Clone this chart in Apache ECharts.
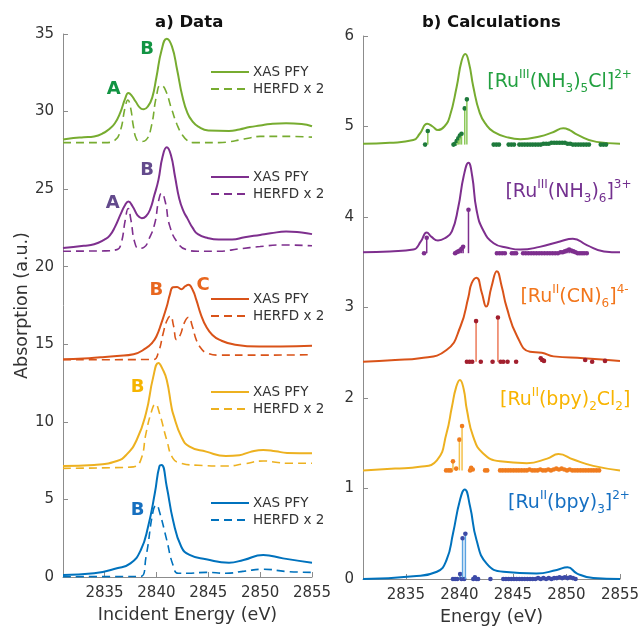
<!DOCTYPE html>
<html><head><meta charset="utf-8">
<script src="https://cdn.jsdelivr.net/npm/echarts@6.0.0/dist/echarts.min.js"></script>
<style>html,body{margin:0;padding:0;background:#fff}#c{width:641px;height:626px}</style>
</head><body><div id="c"></div>
<script>
// ---------- tick labels ----------
const energyTicks = [2835, 2840, 2845, 2850, 2855];
const leftYTicks = [0, 5, 10, 15, 20, 25, 30, 35];
const rightYTicks = [0, 1, 2, 3, 4, 5, 6];

// ---------- a) Data : [energy, absorption] ----------
const pfyGreen = [[2831,28.2],[2832,28.3],[2833,28.35],[2834,28.4],[2835,28.65],[2835.5,28.9],[2836,29.25],[2836.5,29.9],[2837,30.85],[2837.3,31.2],[2837.6,31.05],[2838,30.65],[2838.5,30.2],[2838.8,30.15],[2839.2,30.35],[2839.6,30.9],[2840,32.2],[2840.5,33.95],[2841,34.7],[2841.5,34.2],[2842,32.7],[2842.5,31.0],[2843,29.9],[2843.5,29.35],[2844,29.05],[2845,28.78],[2847,28.75],[2848,28.85],[2849,29.0],[2850,29.1],[2851,29.2],[2852.5,29.25],[2854,29.2],[2855,29.05]];
const herfdGreen = [[2831,28.0],[2835,28.0],[2836,28.15],[2836.5,28.7],[2837,30.3],[2837.25,30.75],[2837.5,30.3],[2837.8,29.0],[2838.1,28.2],[2838.5,28.07],[2839,28.17],[2839.5,29.0],[2840,30.97],[2840.4,31.7],[2840.8,31.5],[2841.5,30.1],[2842,29.15],[2842.5,28.5],[2843,28.13],[2843.5,28.0],[2846,28.0],[2847,28.05],[2848,28.17],[2849,28.3],[2850,28.4],[2853,28.4],[2855,28.35]];
const pfyPurple = [[2831,21.2],[2833,21.35],[2834,21.45],[2835,21.75],[2835.5,22.0],[2836,22.55],[2836.6,23.45],[2837,24.0],[2837.3,24.2],[2837.7,23.9],[2838.2,23.3],[2838.6,23.13],[2839,23.25],[2839.4,23.7],[2839.8,24.6],[2840.2,25.6],[2840.6,27.1],[2841,27.7],[2841.4,27.2],[2841.8,25.8],[2842.2,24.4],[2842.6,23.6],[2843,23.1],[2843.5,22.5],[2844,22.1],[2845,21.84],[2846,21.75],[2847.3,21.75],[2848.5,21.9],[2850,22.05],[2851,22.15],[2852.5,22.27],[2854,22.2],[2855,22.1]];
const herfdPurple = [[2831,21.0],[2835,21.02],[2836.2,21.1],[2836.6,21.5],[2837,23.0],[2837.28,23.75],[2837.55,23.0],[2837.9,21.6],[2838.3,21.18],[2838.8,21.25],[2839.3,21.8],[2839.85,22.8],[2840.2,24.2],[2840.5,24.74],[2840.85,24.2],[2841.3,22.6],[2842.1,21.5],[2842.9,21.1],[2844,21.0],[2846,21.0],[2848,21.15],[2850,21.3],[2852,21.4],[2855,21.35]];
const pfyOrange = [[2831,14.03],[2833,14.08],[2834.6,14.16],[2836.2,14.25],[2837.8,14.36],[2839,14.75],[2839.6,15.1],[2840,15.5],[2840.5,16.4],[2841,17.43],[2841.3,18.2],[2841.6,18.68],[2842,18.7],[2842.4,18.55],[2842.8,18.75],[2843.1,18.83],[2843.5,18.5],[2843.85,17.86],[2844.3,16.9],[2844.8,16.14],[2845.4,15.6],[2846.1,15.28],[2847.4,15.0],[2849.9,14.85],[2852,14.85],[2855,14.9]];
const herfdOrange = [[2831,14.0],[2839.7,14.02],[2840.2,14.5],[2840.65,15.7],[2841.0,16.5],[2841.35,16.83],[2841.65,16.2],[2841.95,15.3],[2842.3,15.6],[2842.7,16.4],[2843.1,16.74],[2843.45,16.2],[2843.85,15.28],[2844.3,14.75],[2844.8,14.46],[2846.1,14.3],[2850,14.3],[2855,14.33]];
const pfyYellow = [[2831,7.15],[2834,7.22],[2836.2,7.48],[2837.1,7.87],[2838.1,8.83],[2839,10.55],[2839.7,12.9],[2840.2,13.8],[2840.6,13.4],[2841,12.7],[2841.45,10.98],[2841.6,10.55],[2842.4,9.05],[2843.2,8.4],[2844.8,8.08],[2846.7,7.8],[2848,7.85],[2849,8.05],[2850.3,8.19],[2851.5,8.1],[2852.6,8.0],[2855,7.97]];
const herfdYellow = [[2831,7.0],[2836,7.05],[2837.8,7.1],[2838.5,7.55],[2839,9.26],[2839.5,10.6],[2839.9,11.15],[2840.3,10.55],[2841,8.83],[2841.6,7.65],[2842.4,7.33],[2844,7.2],[2846.7,7.15],[2848.5,7.3],[2850.3,7.48],[2851.5,7.4],[2852.6,7.33],[2855,7.33]];
const pfyBlue = [[2831,0.13],[2834,0.24],[2836.2,0.56],[2837.5,0.88],[2838.5,1.74],[2839.2,3.24],[2839.85,5.4],[2840.3,7.16],[2840.5,7.22],[2841,5.82],[2841.6,3.68],[2842.4,1.95],[2843.2,1.42],[2844.8,1.14],[2847,0.92],[2848.4,1.1],[2850.3,1.42],[2852.2,1.2],[2855,0.92]];
const herfdBlue = [[2831,0.02],[2838.5,0.04],[2839,1.3],[2839.7,4.3],[2840,4.64],[2840.3,4.2],[2841,2.38],[2841.6,0.77],[2842.1,0.24],[2843,0.24],[2844.8,0.3],[2846.7,0.24],[2848.5,0.38],[2850.3,0.5],[2852.6,0.35],[2855,0.3]];

// peak letters: [text, energy, absorption]
const lettersGreen = [['A',2835.9,31.46],['B',2839.1,33.98]];
const lettersPurple = [['A',2835.8,24.1],['B',2839.1,26.24]];
const lettersOrange = [['B',2840.0,18.5],['C',2844.5,18.8]];
const lettersYellow = [['B',2838.2,12.2]];
const lettersBlue = [['B',2838.2,4.3]];

// ---------- b) Calculations : [energy, intensity] ----------
const calcGreen = [[2831,4.81],[2833.5,4.82],[2835.7,4.85],[2836.3,4.92],[2837.0,5.03],[2837.5,5.0],[2838.0,4.96],[2838.6,5.0],[2839.1,5.11],[2839.75,5.44],[2840.2,5.72],[2840.55,5.8],[2840.9,5.7],[2841.3,5.44],[2841.9,5.15],[2842.5,5.02],[2843.2,4.94],[2844.5,4.88],[2845.7,4.86],[2847.5,4.89],[2848.8,4.94],[2849.7,4.98],[2850.3,4.96],[2851.0,4.91],[2852.8,4.83],[2855,4.81]];
const calcPurple = [[2831,3.61],[2833.5,3.62],[2835.7,3.64],[2836.4,3.73],[2836.95,3.83],[2837.4,3.78],[2838.0,3.74],[2838.7,3.77],[2839.3,3.84],[2839.9,4.11],[2840.4,4.45],[2840.85,4.6],[2841.2,4.45],[2841.6,4.08],[2842.2,3.86],[2843.2,3.71],[2844.5,3.66],[2845.7,3.64],[2847.5,3.67],[2849.4,3.73],[2850.6,3.76],[2851.9,3.69],[2853.5,3.62],[2855,3.61]];
const calcOrange = [[2831,2.40],[2834,2.42],[2836.3,2.44],[2838.8,2.53],[2840.1,2.79],[2840.85,3.12],[2841.15,3.27],[2841.6,3.33],[2842.1,3.16],[2842.5,3.01],[2843.0,3.23],[2843.5,3.40],[2843.96,3.23],[2844.4,3.01],[2845.4,2.68],[2846.6,2.51],[2847.7,2.50],[2848.8,2.46],[2851.6,2.44],[2855,2.41]];
const calcYellow = [[2831,1.20],[2834,1.22],[2836.3,1.24],[2837.9,1.31],[2838.8,1.61],[2839.3,1.90],[2839.7,2.12],[2840.05,2.20],[2840.4,2.1],[2840.7,1.87],[2841.3,1.57],[2842.2,1.39],[2843.8,1.30],[2846.3,1.28],[2848.2,1.33],[2849.25,1.38],[2850.65,1.32],[2852.5,1.25],[2855,1.20]];
const calcBlue = [[2831,0.0],[2835.7,0.03],[2837.9,0.08],[2838.8,0.21],[2839.4,0.50],[2840.05,0.87],[2840.5,0.99],[2841.0,0.80],[2841.6,0.43],[2842.55,0.17],[2844.1,0.08],[2847.2,0.06],[2849.1,0.10],[2850.1,0.13],[2851.0,0.06],[2852.5,0.01],[2855,0.0]];

// stick baselines (offsets) per compound
const stickBase = {green: 4.8, purple: 3.6, orange: 2.4, yellow: 1.2, blue: 0};
// transitions: [energy, intensity]
const sticksGreen = [[2836.8,4.8],[2837.05,4.95],[2839.45,4.8],[2839.6,4.81],[2839.75,4.84],[2839.9,4.87],[2840.05,4.9],[2840.2,4.92],[2840.5,5.2],[2840.7,5.3],[2843.2,4.8],[2843.45,4.8],[2843.7,4.8],[2844.6,4.8],[2844.85,4.8],[2845.1,4.8],[2845.6,4.8],[2845.85,4.8],[2846.1,4.8],[2846.35,4.8],[2846.6,4.8],[2846.85,4.8],[2847.1,4.8],[2847.35,4.8],[2847.6,4.8],[2847.85,4.81],[2848.1,4.81],[2848.35,4.81],[2848.6,4.82],[2848.85,4.82],[2849.1,4.82],[2849.35,4.82],[2849.6,4.82],[2849.85,4.82],[2850.1,4.81],[2850.35,4.81],[2850.6,4.8],[2850.85,4.8],[2851.1,4.8],[2851.35,4.8],[2851.6,4.8],[2851.85,4.8],[2852.1,4.8],[2853.2,4.8],[2853.45,4.8],[2853.7,4.8]];
const sticksPurple = [[2836.7,3.6],[2836.95,3.77],[2839.6,3.6],[2839.75,3.61],[2839.9,3.62],[2840.05,3.63],[2840.2,3.65],[2840.35,3.67],[2840.85,4.08],[2843.5,3.6],[2843.75,3.6],[2844.0,3.6],[2844.25,3.6],[2844.9,3.6],[2845.1,3.6],[2845.3,3.6],[2845.95,3.6],[2846.2,3.6],[2846.45,3.6],[2846.7,3.6],[2846.95,3.6],[2847.2,3.6],[2847.45,3.6],[2847.7,3.6],[2847.95,3.6],[2848.2,3.6],[2848.45,3.6],[2848.7,3.6],[2848.95,3.6],[2849.2,3.6],[2849.45,3.61],[2849.65,3.61],[2849.85,3.62],[2850.05,3.63],[2850.25,3.64],[2850.45,3.63],[2850.65,3.62],[2850.85,3.61],[2851.05,3.6],[2851.25,3.6],[2851.45,3.6],[2851.65,3.6],[2851.9,3.6]];
const sticksOrange = [[2840.7,2.4],[2840.95,2.4],[2841.2,2.4],[2841.56,2.85],[2842.0,2.4],[2843.1,2.4],[2843.6,2.89],[2843.85,2.4],[2844.1,2.4],[2844.5,2.4],[2845.3,2.4],[2847.6,2.44],[2847.75,2.42],[2847.9,2.41],[2851.75,2.42],[2852.4,2.4],[2853.6,2.41]];
const sticksYellow = [[2838.76,1.2],[2839.0,1.2],[2839.2,1.2],[2839.4,1.3],[2839.7,1.22],[2840.0,1.54],[2840.25,1.69],[2841.0,1.2],[2841.1,1.23],[2841.25,1.21],[2842.4,1.2],[2842.6,1.2],[2843.8,1.2],[2844.05,1.2],[2844.3,1.2],[2844.55,1.2],[2844.8,1.2],[2845.05,1.2],[2845.3,1.2],[2845.55,1.2],[2845.8,1.2],[2846.05,1.2],[2846.3,1.2],[2846.55,1.21],[2846.8,1.2],[2847.05,1.2],[2847.3,1.2],[2847.55,1.21],[2847.8,1.2],[2848.05,1.2],[2848.3,1.21],[2848.55,1.2],[2848.8,1.21],[2849.05,1.22],[2849.3,1.21],[2849.55,1.22],[2849.8,1.21],[2850.05,1.2],[2850.3,1.21],[2850.55,1.2],[2850.8,1.2],[2851.05,1.2],[2851.3,1.2],[2851.55,1.2],[2851.8,1.2],[2852.05,1.2],[2852.3,1.2],[2852.55,1.2],[2852.8,1.2],[2853.05,1.2]];
const sticksBlue = [[2839.4,0],[2839.6,0],[2839.8,0],[2840.07,0.055],[2840.2,0],[2840.3,0.45],[2840.45,0],[2840.56,0.5],[2841.3,0],[2841.45,0.02],[2841.6,0],[2841.75,0],[2842.9,0],[2844.1,0],[2844.35,0],[2844.6,0],[2844.85,0],[2845.1,0],[2845.35,0],[2845.6,0],[2845.85,0],[2846.1,0],[2846.35,0],[2846.6,0],[2846.85,0],[2847.1,0],[2847.35,0.01],[2847.6,0],[2847.85,0.01],[2848.1,0],[2848.35,0.01],[2848.6,0],[2848.85,0.01],[2849.1,0.01],[2849.35,0.02],[2849.6,0.01],[2849.85,0.02],[2850.1,0.01],[2850.35,0.02],[2850.6,0.01],[2850.85,0]];

// compound labels: [rich text, energy, intensity, colour key]
const compoundLabels = [
  ['{m|[Ru}{sup|III}{m|(NH}{sub|3}{m|)}{sub|5}{m|Cl]}{sup|2+}', 2842.6, 5.49, 'green'],
  ['{m|[Ru}{sup|III}{m|(NH}{sub|3}{m|)}{sub|6}{m|]}{sup|3+}', 2844.3, 4.28, 'purple'],
  ['{m|[Ru}{sup|II}{m|(CN)}{sub|6}{m|]}{sup|4-}', 2845.7, 3.12, 'orange'],
  ['{m|[Ru}{sup|II}{m|(bpy)}{sub|2}{m|Cl}{sub|2}{m|]}', 2843.8, 1.98, 'yellow'],
  ['{m|[Ru}{sup|II}{m|(bpy)}{sub|3}{m|]}{sup|2+}', 2844.55, 0.84, 'blue']
];

// ---------- styles ----------
const lineColor = {green:'#77AC30', purple:'#7E2F8E', orange:'#D95319', yellow:'#EDB120', blue:'#0072BD'};
const letterColor = {green:'#129443', purple:'#634a8c', orange:'#e8661e', yellow:'#f6b400', blue:'#166fbf'};
const labelColor = {green:'#22a040', purple:'#73308f', orange:'#f2761c', yellow:'#f8b400', blue:'#156fc2'};
const stemColor = {green:'#8cc85a', purple:'#7E2F8E', orange:'#ec7a5a', yellow:'#f4c04a', blue:'#5aa2e0'};
const dotColor = {green:'#1e7a3c', purple:'#7E2F8E', orange:'#a21f2e', yellow:'#f07c1e', blue:'#3c4aa8'};
const FONT = 'DejaVu Sans';
const AX = '#8c8c8c';

const keys = ['green','purple','orange','yellow','blue'];
const pfy = {green:pfyGreen, purple:pfyPurple, orange:pfyOrange, yellow:pfyYellow, blue:pfyBlue};
const herfd = {green:herfdGreen, purple:herfdPurple, orange:herfdOrange, yellow:herfdYellow, blue:herfdBlue};
const letters = {green:lettersGreen, purple:lettersPurple, orange:lettersOrange, yellow:lettersYellow, blue:lettersBlue};
const calc = {green:calcGreen, purple:calcPurple, orange:calcOrange, yellow:calcYellow, blue:calcBlue};
const sticks = {green:sticksGreen, purple:sticksPurple, orange:sticksOrange, yellow:sticksYellow, blue:sticksBlue};
const legendTop = {green:65, purple:170, orange:292, yellow:385, blue:496};

const SMOOTH = 0.5;
const series = [];
keys.forEach(k => {
  series.push({name:'PFY '+k, type:'line', xAxisIndex:0, yAxisIndex:0, data:pfy[k], symbol:'none',
    smooth:SMOOTH, lineStyle:{color:lineColor[k], width:2}, itemStyle:{color:lineColor[k]}, z:3});
  series.push({name:'HERFD '+k, type:'line', xAxisIndex:0, yAxisIndex:0, data:herfd[k], symbol:'none',
    smooth:SMOOTH, lineStyle:{color:lineColor[k], width:1.6, type:[8,5]}, itemStyle:{color:lineColor[k]}, z:2});
  series.push({type:'scatter', xAxisIndex:0, yAxisIndex:0, symbolSize:0, silent:true, z:5,
    itemStyle:{opacity:1},
    data: letters[k].map(a => ({name:a[0], value:[a[1], a[2]]})),
    label:{show:true, position:'inside', formatter:'{b}', color:letterColor[k], opacity:1, textBorderWidth:0,
      fontFamily:FONT, fontWeight:'bold', fontSize:18}});
  series.push({type:'line', xAxisIndex:1, yAxisIndex:1, data:calc[k], symbol:'none',
    smooth:SMOOTH, lineStyle:{color:lineColor[k], width:2}, z:2});
  const base = stickBase[k];
  series.push({type:'custom', xAxisIndex:1, yAxisIndex:1, z:4, silent:true,
    data: sticks[k].map(s => [s[0], s[1], base]),
    encode:{x:0, y:1},
    renderItem: (params, api) => {
      const p0 = api.coord([api.value(0), api.value(2)]);
      const p1 = api.coord([api.value(0), api.value(1)]);
      return {type:'group', children:[
        {type:'line', shape:{x1:p0[0], y1:p0[1], x2:p1[0], y2:p1[1]}, style:{stroke:stemColor[k], lineWidth:1.5}},
        {type:'circle', shape:{cx:p1[0], cy:p1[1], r:2.3}, style:{fill:dotColor[k]}}
      ]};
    }});
});
series.push({type:'scatter', xAxisIndex:1, yAxisIndex:1, symbolSize:0, silent:true, z:5,
  itemStyle:{opacity:1},
  data: compoundLabels.map(c => ({value:[c[1], c[2]], name:c[0], label:{color:labelColor[c[3]]}})),
  label:{show:true, position:'inside', align:'left', verticalAlign:'middle', formatter:p => p.name,
    fontFamily:FONT, opacity:1, textBorderWidth:0,
    rich:{
      m:{fontSize:19, lineHeight:26, fontFamily:FONT},
      sup:{fontSize:12, lineHeight:12, verticalAlign:'top', fontFamily:FONT},
      sub:{fontSize:12, lineHeight:12, verticalAlign:'bottom', fontFamily:FONT}
    }}});

const legends = keys.map(k => ({
  orient:'vertical', left:210, top:legendTop[k], itemWidth:38, itemHeight:14, itemGap:3, padding:0,
  selectedMode:false, data:['PFY '+k, 'HERFD '+k],
  itemStyle:{opacity:0},
  formatter: n => n.startsWith('PFY') ? 'XAS PFY' : 'HERFD x 2',
  textStyle:{fontFamily:FONT, fontSize:13.5, color:'#333', padding:[0,0,0,-1]}
}));

const xAxisCommon = {
  type:'value', min:2831, max:2855, nameLocation:'middle', nameGap:29,
  nameTextStyle:{fontFamily:FONT, fontSize:17.5, color:'#333'},
  axisLine:{show:true, lineStyle:{color:AX, width:1}},
  axisTick:{show:true, inside:true, length:5, lineStyle:{color:AX}, customValues:energyTicks},
  axisLabel:{fontFamily:FONT, fontSize:15, color:'#333', margin:9, customValues:energyTicks, formatter:v => String(v)},
  splitLine:{show:false}
};
const yAxisCommon = {
  type:'value', min:0, interval:1,
  axisLine:{show:true, lineStyle:{color:AX, width:1}},
  axisTick:{show:true, inside:true, length:5, lineStyle:{color:AX}},
  axisLabel:{fontFamily:FONT, fontSize:15, color:'#333', margin:9, formatter:v => String(v)},
  splitLine:{show:false}
};

const option = {
  animation:false,
  backgroundColor:'#fff',
  textStyle:{fontFamily:FONT},
  title:[
    {text:'a) Data', left:150, top:9, textStyle:{fontFamily:FONT, fontSize:16.5, fontWeight:'bold', color:'#111'}},
    {text:'b) Calculations', left:417, top:9, textStyle:{fontFamily:FONT, fontSize:16.5, fontWeight:'bold', color:'#111'}}
  ],
  legend:legends,
  grid:[
    {left:63, top:34, width:249, height:543, outerBoundsMode:'none'},
    {left:363, top:36, width:257, height:543, outerBoundsMode:'none'}
  ],
  xAxis:[
    Object.assign({}, xAxisCommon, {gridIndex:0, name:'Incident Energy (eV)'}),
    Object.assign({}, xAxisCommon, {gridIndex:1, name:'Energy (eV)'})
  ],
  yAxis:[
    Object.assign({}, yAxisCommon, {gridIndex:0, max:35, interval:5, name:'Absorption (a.u.)', nameLocation:'middle', nameGap:32,
      nameTextStyle:{fontFamily:FONT, fontSize:17.5, color:'#333'},
      axisLabel:Object.assign({}, yAxisCommon.axisLabel, {customValues:leftYTicks})}),
    Object.assign({}, yAxisCommon, {gridIndex:1, max:6, interval:1,
      axisLabel:Object.assign({}, yAxisCommon.axisLabel, {customValues:rightYTicks})})
  ],
  series:series
};
const chart = echarts.init(document.getElementById('c'), null, {renderer:'canvas'});
chart.setOption(option);
</script>
</body></html>
